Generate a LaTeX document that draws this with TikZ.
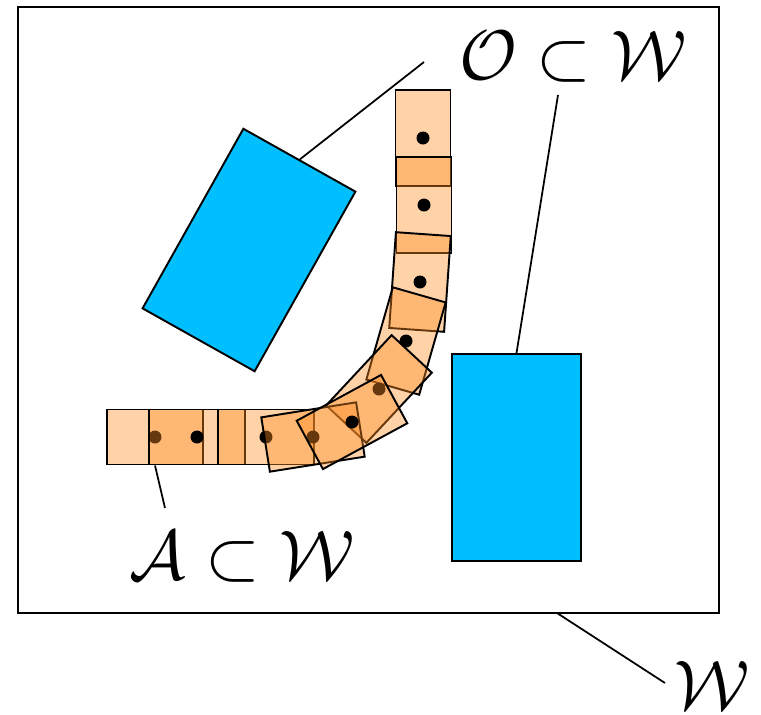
\documentclass[tikz,border=0pt]{standalone}
\usepackage{tikz}
\definecolor{linkorange}{RGB}{255,142,37}
\definecolor{obstblue}{RGB}{0,191,255}
\tikzset{
  linkbox/.style={rectangle, draw=black, line width=1.1pt, fill=linkorange, fill opacity=0.4, minimum width=1.92cm, minimum height=1.1cm, inner sep=0pt},
  jointdot/.style={circle, fill=black, inner sep=0pt, minimum size=0.26cm},
  obstacle/.style={rectangle, draw=black, line width=1.1pt, fill=obstblue, inner sep=0pt},
  lbl/.style={scale=4.0, inner sep=0pt},
  leader/.style={line width=1pt}
}
\begin{document}
\begin{tikzpicture}[x=0.02cm, y=-0.02cm]
\useasboundingbox (0,0) rectangle (761,714);
% workspace
\node[draw, line width=1.1pt, minimum width=14.02cm, minimum height=12.12cm, inner sep=0pt] (world) at (368.5,310) {};
% obstacles
\node[obstacle, minimum width=2.57cm, minimum height=4.12cm, rotate=-29.3] (obsA) at (249,250) {};
\node[obstacle, minimum width=2.58cm, minimum height=4.14cm] (obsB) at (516.5,457.5) {};
% robot links
\foreach \px/\py/\ang/\n in {423/138/90/1, 424/205/90/2, 420/282/86/3, 406/341/74/4, 379/389/47/5,
  155/437/0/10, 197/437/0/9, 266/437/0/8, 313/437/9/7, 352/422/28.5/6}{
  \node[linkbox, rotate=\ang] (link\n) at (\px,\py) {};
  \node[jointdot] (joint\n) at (link\n.center) {};
}
% labels
\node[lbl] (labO) at (573,57) {$\mathcal{O}\subset\mathcal{W}$};
\node[lbl] (labA) at (242,557) {$\mathcal{A}\subset\mathcal{W}$};
\node[lbl] (labW) at (712,685) {$\mathcal{W}$};
\coordinate (tipO) at (424,62);
\coordinate (tipO2) at (558,95);
\coordinate (tipA) at (165,508);
\coordinate (tipW) at (665,683);
\coordinate (footW) at (557,613);
\draw[leader] (tipO) -- (obsA.north);
\draw[leader] (tipO2) -- (obsB.north);
\draw[leader] (link10.south) -- (tipA);
\draw[leader] (footW) -- (tipW);
\end{tikzpicture}
\end{document}
